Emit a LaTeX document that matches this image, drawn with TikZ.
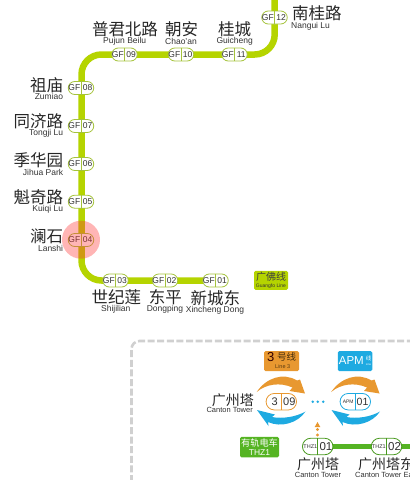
\documentclass[tikz,border=0pt]{standalone}
\usepackage{fontspec}
\setmainfont{Liberation Sans}
\newfontfamily\cjk{Noto Sans CJK SC}
\usetikzlibrary{shapes.misc,backgrounds}
\definecolor{gfgreen}{RGB}{181,212,0}
\definecolor{gfedge}{RGB}{165,195,60}
\definecolor{thzgreen}{RGB}{85,180,35}
\definecolor{orangeC}{RGB}{232,152,48}
\definecolor{blueC}{RGB}{30,170,225}
\definecolor{txt}{RGB}{50,50,50}
\definecolor{dashC}{RGB}{208,208,208}
\tikzset{
  px/.style={x=1pt,y=-1pt},
  pill/.style={draw=#1,line width=0.8pt,fill=white,rounded rectangle,minimum width=25.5pt,minimum height=13pt,inner sep=0pt},
  bigpill/.style={pill=#1,minimum width=30.5pt,minimum height=16.5pt},
  pilltxt/.style={font=\fontsize{8.5}{8.5}\selectfont,text=txt,inner sep=0pt},
  cn/.style={font=\cjk\fontsize{16.5}{18}\selectfont,text=black!85,inner sep=0pt},
  cnsm/.style={font=\cjk\fontsize{14}{15}\selectfont,text=black!85,inner sep=0pt},
  en/.style={font=\fontsize{8.5}{9}\selectfont,text=txt,inner sep=0pt},
  ensm/.style={font=\fontsize{7.5}{8}\selectfont,text=txt,inner sep=0pt},
  gfline/.style={draw=gfgreen,line width=6.5pt,rounded corners=20pt},
  divider/.style={line width=0.7pt},
  legendbox/.style={rounded corners=1.5pt,inner sep=0pt},
}
\newcommand{\gf}[4]{%
  \node[pill=gfedge] (#1) at (#2,#3) {};
  \draw[gfedge,divider] (#1.north) -- (#1.south);
  \node[pilltxt] (#1l) at ([xshift=-6.7pt]#1.center) {GF};
  \node[pilltxt] (#1r) at ([xshift=6.7pt]#1.center) {#4};
}
\begin{document}
\begin{tikzpicture}[px]
\useasboundingbox (0,0) rectangle (410,480);
% stations
\gf{g12}{274.5}{17.5}{12}
\gf{g11}{234.5}{54.5}{11}
\gf{g10}{181}{54.5}{10}
\gf{g09}{124.5}{54.5}{09}
\gf{g08}{81}{88}{08}
\gf{g07}{81}{126}{07}
\gf{g06}{81}{164}{06}
\gf{g05}{81}{201.7}{05}
\gf{g04}{81}{240}{04}
\gf{g03}{115.5}{280.5}{03}
\gf{g02}{165}{280.5}{02}
\gf{g01}{215.5}{280.5}{01}
\coordinate (lineTop) at (274.7,-3);
\coordinate (cornerA) at (274.7,54.5);
\coordinate (cornerB) at (81.5,54.5);
\coordinate (cornerC) at (81.5,280.5);
\begin{scope}[on background layer]
  \draw[gfline] (lineTop) -- (cornerA) -- (cornerB) -- (cornerC) -- (g01.center);
\end{scope}
% highlight
\node[circle,fill=red!80!white,opacity=0.36,minimum size=38pt,inner sep=0pt] (hl) at (81,239.7) {};
% labels
\node[cn,anchor=west] (a12) at (292,13.3) {南桂路};
\node[en,anchor=west] (b12) at (291,26) {Nangui Lu};
\node[cn] (a11) at (234.7,29) {桂城};
\node[en] (b11) at (234.7,41) {Guicheng};
\node[cn] (a10) at (181.5,29) {朝安};
\node[en] (b10) at (181,41) {Chao'an};
\node[cn] (a09) at (125,29) {普君北路};
\node[en] (b09) at (124.7,41) {Pujun Beilu};
\node[cn,anchor=east] (a08) at (63.3,85) {祖庙};
\node[en,anchor=east] (b08) at (63.3,96.7) {Zumiao};
\node[cn,anchor=east] (a07) at (63.3,121.7) {同济路};
\node[en,anchor=east] (b07) at (63.3,133.3) {Tongji Lu};
\node[cn,anchor=east] (a06) at (63.3,160) {季华园};
\node[en,anchor=east] (b06) at (63.3,172.7) {Jihua Park};
\node[cn,anchor=east] (a05) at (63.3,197.3) {魁奇路};
\node[en,anchor=east] (b05) at (63.3,209.3) {Kuiqi Lu};
\node[cn,anchor=east] (a04) at (63.3,236) {澜石};
\node[en,anchor=east] (b04) at (63.3,248.3) {Lanshi};
\node[cn] (a03) at (116.3,297.3) {世纪莲};
\node[en] (b03) at (115.8,309.3) {Shijilian};
\node[cn] (a02) at (165.3,297.3) {东平};
\node[en] (b02) at (165,309.5) {Dongping};
\node[cn] (a01) at (215.3,298) {新城东};
\node[en] (b01) at (215,310) {Xincheng Dong};
% Guangfo legend
\node[legendbox,fill=gfgreen,minimum width=34pt,minimum height=19pt] (leg) at (271,280.3) {};
\node[font=\cjk\fontsize{10}{11}\selectfont,inner sep=0pt,text=black!75] (legA) at (271,276.5) {广佛线};
\node[font=\fontsize{5}{5}\selectfont,inner sep=0pt,text=black!80] (legB) at (271,286) {Guangfo Line};
% dashed frame
\draw[dashC,line width=2.6pt,dash pattern=on 7pt off 2.6pt,rounded corners=8pt] (131.5,482) -- (131.5,341) -- (412,341);
% line 3 legend
\node[legendbox,fill=orangeC,minimum width=35pt,minimum height=20pt] (l3) at (281.5,361) {};
\node[font=\fontsize{13}{13}\selectfont,inner sep=0pt,text=black!80!red] (l3a) at (270.7,357.5) {3};
\node[font=\cjk\fontsize{9.5}{10}\selectfont,inner sep=0pt,text=black!70!orangeC] (l3b) at (286.5,357) {号线};
\node[font=\fontsize{5.5}{6}\selectfont,inner sep=0pt,text=black!60!orangeC] (l3c) at (282.7,367) {Line 3};
% APM legend
\node[legendbox,fill=blueC,minimum width=34.5pt,minimum height=20pt] (la) at (355,361) {};
\node[font=\fontsize{11.5}{12}\selectfont,inner sep=0pt,text=white] (laa) at (351.3,361) {APM};
\node[font=\cjk\fontsize{5.5}{6}\selectfont,inner sep=0pt,text=white] (lab) at (368.6,358.5) {线};
\node[font=\fontsize{2.8}{3}\selectfont,inner sep=0pt,text=white] (lac) at (368.6,364.5) {Line};
% THZ legend
\node[legendbox,fill=thzgreen,minimum width=39pt,minimum height=20.5pt] (lt) at (259.5,447) {};
\node[font=\cjk\fontsize{9.2}{10}\selectfont,inner sep=0pt,text=white] (lta) at (259.5,442.5) {有轨电车};
\node[font=\fontsize{8.5}{9}\selectfont,inner sep=0pt,text=white] (ltb) at (259.5,452.5) {THZ1};
% Canton tower label
\node[cnsm,anchor=east] (ct) at (254,400) {广州塔};
\node[ensm,anchor=east] (cte) at (253,410.3) {Canton Tower};
% exchange arrows
\newcommand{\xarrows}[1]{%
\begin{scope}[xshift=#1pt]
  \fill[orangeC] (256.7,392) .. controls (266,378) and (283,372) .. (297,380.5) -- (300,379.5) -- (305,393.5) -- (289.5,391) -- (292.5,387.5) .. controls (280,382) and (266,384) .. (256.7,392) -- cycle;
  \fill[blueC] (305.5,411.5) .. controls (298,423) and (281,428) .. (268,422) -- (268.5,426) -- (257,410) -- (275,414.5) -- (272,417) .. controls (282,419) and (296,417) .. (305.5,411.5) -- cycle;
\end{scope}}
\xarrows{0}
\xarrows{74.5}
% interchange pills
\node[bigpill=orangeC] (s309) at (281.3,401.7) {};
\draw[orangeC,divider] (s309.north) -- (s309.south);
\node[pilltxt,font=\fontsize{11}{11}\selectfont] (s309l) at (274.7,401.7) {3};
\node[pilltxt,font=\fontsize{11}{11}\selectfont] (s309r) at (289.3,401.7) {09};
\node[bigpill=blueC] (apm) at (355.3,401.7) {};
\draw[blueC,divider] (apm.north) -- (apm.south);
\node[pilltxt,font=\fontsize{5}{5}\selectfont] (apml) at (348.2,401.7) {APM};
\node[pilltxt,font=\fontsize{10.5}{11}\selectfont] (apmr) at (362.5,401.7) {01};
% dots
\foreach \i/\xx in {1/312.7,2/317.7,3/323.3}
  \node[circle,fill=blueC,minimum size=2.8pt,inner sep=0pt] (d\i) at (\xx,401.7) {};
% orange marks
\node[circle,fill=orangeC,minimum size=3.2pt,inner sep=0pt] (u1) at (317.5,429.5) {};
\node[circle,fill=orangeC,minimum size=3.2pt,inner sep=0pt] (u2) at (317.5,435) {};
\fill[orangeC] (317.5,422) -- (320.3,427) -- (314.7,427) -- cycle;
% THZ
\coordinate (thzEnd) at (412,446.5);
\node[bigpill=thzgreen!85!black] (t1) at (317.7,446.5) {};
\node[bigpill=thzgreen!85!black] (t2) at (386.5,446.5) {};
\begin{scope}[on background layer]
  \draw[thzgreen,line width=5.5pt] (t1.center) -- (thzEnd);
\end{scope}
\draw[thzgreen!85!black,divider] (t1.north) -- (t1.south);
\draw[thzgreen!85!black,divider] (t2.north) -- (t2.south);
\node[pilltxt,font=\fontsize{5.5}{6}\selectfont] (t1l) at (310.3,446.5) {THZ1};
\node[pilltxt,font=\fontsize{11.5}{12}\selectfont] (t1r) at (326,446.5) {01};
\node[pilltxt,font=\fontsize{5.5}{6}\selectfont] (t2l) at (378.8,446.5) {THZ1};
\node[pilltxt,font=\fontsize{11.5}{12}\selectfont] (t2r) at (394.5,446.5) {02};
\node[cnsm] (ta1) at (318,464.5) {广州塔};
\node[ensm] (tb1) at (318,475) {Canton Tower};
\node[cnsm,anchor=west] (ta2) at (358,464.5) {广州塔东};
\node[ensm,anchor=west] (tb2) at (355,475) {Canton Tower East};
\end{tikzpicture}
\end{document}
